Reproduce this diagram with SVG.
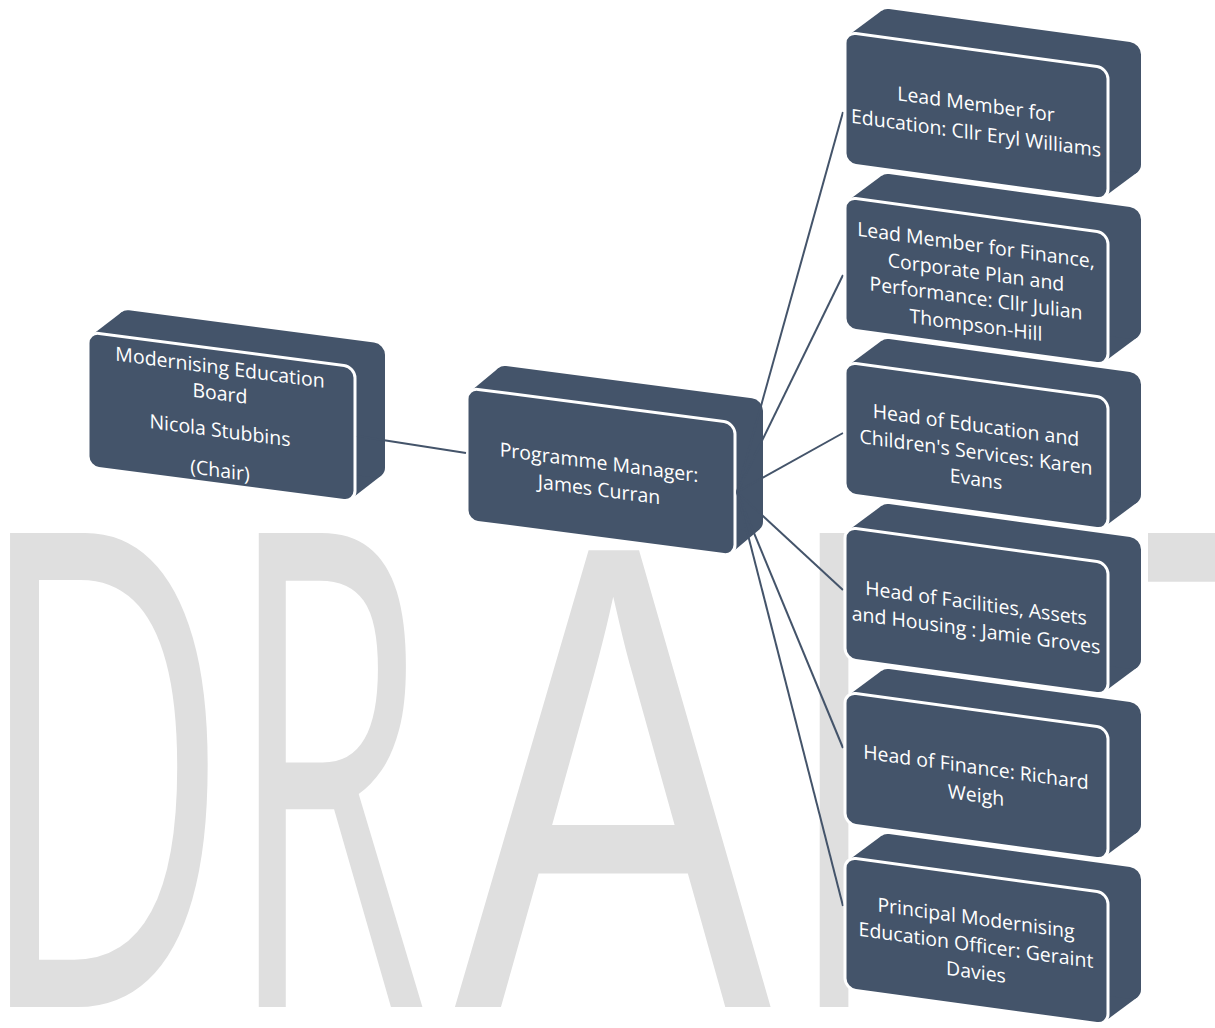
<svg xmlns="http://www.w3.org/2000/svg" width="1215" height="1028" viewBox="0 0 1215 1028">
<style>
.wm{fill:#DFDFDF;font-family:"Open Sans","Noto Sans",sans-serif;font-size:664px}
.wma{fill:#DFDFDF;font-family:"Liberation Sans",Arial,sans-serif;font-size:664px}
.body{fill:#44546A}
.face{fill:#44546A;stroke:#FFFFFF;stroke-width:3}
.lbl{fill:#FFFFFF;font-family:"Open Sans","Noto Sans",sans-serif;font-size:19.5px;text-anchor:middle}
.conn line{stroke:#44546A;stroke-width:2}
</style>
<rect width="1215" height="1028" fill="#FFFFFF"/>
<g id="watermark">
<text class="wm" transform="translate(-24,1007) scale(0.525,1)">D</text>
<text class="wm" transform="translate(227,1007) scale(0.49,1)">R</text>
<text class="wma" transform="translate(454,1007) scale(0.717,1)">A</text>
<text class="wm" transform="translate(786,1007) scale(0.52,1)">F</text>
<text class="wm" transform="translate(1145,1007) scale(0.52,1)">T</text>
</g>
<g id="n-board" transform="translate(88,332) skewY(7.45)">
<polygon class="body" points="3.6,2.8 33.6,-24.2 293.4,105.2 263.4,132.2"/>
<rect class="body" x="30" y="-27" width="267" height="135" rx="11"/>
<rect class="face" x="0" y="0" width="267" height="135" rx="11"/>
<text class="lbl" x="132" y="25">Modernising Education</text>
<text class="lbl" x="132" y="51">Board</text>
<text class="lbl" x="132" y="88">Nicola Stubbins</text>
<text class="lbl" x="132" y="128">(Chair)</text>
</g>
<g id="n-pm" transform="translate(467,388) skewY(7.45)">
<polygon class="body" points="3.3,3.1 31.3,-23.9 292.7,103.1 264.7,130.1"/>
<rect class="body" x="28" y="-27" width="268" height="133" rx="11"/>
<rect class="face" x="0" y="0" width="268" height="133" rx="11"/>
<text class="lbl" x="132" y="64">Programme Manager:</text>
<text class="lbl" x="132" y="91">James Curran</text>
</g>
<g id="connectors" class="conn">
<line x1="357" y1="436" x2="466" y2="453"/>
<line x1="737" y1="492" x2="843" y2="112"/>
<line x1="737" y1="492" x2="843" y2="275"/>
<line x1="737" y1="492" x2="843" y2="433"/>
<line x1="737" y1="492" x2="843" y2="590"/>
<line x1="737" y1="492" x2="843" y2="748"/>
<line x1="737" y1="492" x2="843" y2="906"/>
</g>
<g id="n-r1" transform="translate(845,32) skewY(7.8)">
<polygon class="body" points="3.6,2.8 36.6,-26.2 292.4,100.2 259.4,129.2"/>
<rect class="body" x="33" y="-29" width="263" height="132" rx="11"/>
<rect class="face" x="0" y="0" width="263" height="132" rx="11"/>
<text class="lbl" x="131" y="61">Lead Member for</text>
<text class="lbl" x="131" y="90">Education: Cllr Eryl Williams</text>
</g>
<g id="n-r2" transform="translate(845,197) skewY(7.8)">
<polygon class="body" points="3.6,2.8 36.6,-26.2 292.4,100.2 259.4,129.2"/>
<rect class="body" x="33" y="-29" width="263" height="132" rx="11"/>
<rect class="face" x="0" y="0" width="263" height="132" rx="11"/>
<text class="lbl" x="131" y="37">Lead Member for Finance,</text>
<text class="lbl" x="131" y="64">Corporate Plan and</text>
<text class="lbl" x="131" y="90">Performance: Cllr Julian</text>
<text class="lbl" x="131" y="117">Thompson-Hill</text>
</g>
<g id="n-r3" transform="translate(845,362) skewY(7.8)">
<polygon class="body" points="3.6,2.8 36.6,-26.2 292.4,100.2 259.4,129.2"/>
<rect class="body" x="33" y="-29" width="263" height="132" rx="11"/>
<rect class="face" x="0" y="0" width="263" height="132" rx="11"/>
<text class="lbl" x="131" y="52">Head of Education and</text>
<text class="lbl" x="131" y="79">Children's Services: Karen</text>
<text class="lbl" x="131" y="106">Evans</text>
</g>
<g id="n-r4" transform="translate(845,527) skewY(7.8)">
<polygon class="body" points="3.6,2.8 36.6,-26.2 292.4,100.2 259.4,129.2"/>
<rect class="body" x="33" y="-29" width="263" height="132" rx="11"/>
<rect class="face" x="0" y="0" width="263" height="132" rx="11"/>
<text class="lbl" x="131" y="65">Head of Facilities, Assets</text>
<text class="lbl" x="131" y="92">and Housing : Jamie Groves</text>
</g>
<g id="n-r5" transform="translate(845,692) skewY(7.8)">
<polygon class="body" points="3.6,2.8 36.6,-26.2 292.4,100.2 259.4,129.2"/>
<rect class="body" x="33" y="-29" width="263" height="132" rx="11"/>
<rect class="face" x="0" y="0" width="263" height="132" rx="11"/>
<text class="lbl" x="131" y="64">Head of Finance: Richard</text>
<text class="lbl" x="131" y="92">Weigh</text>
</g>
<g id="n-r6" transform="translate(845,857) skewY(7.8)">
<polygon class="body" points="3.6,2.8 36.6,-26.2 292.4,100.2 259.4,129.2"/>
<rect class="body" x="33" y="-29" width="263" height="132" rx="11"/>
<rect class="face" x="0" y="0" width="263" height="132" rx="11"/>
<text class="lbl" x="131" y="50">Principal Modernising</text>
<text class="lbl" x="131" y="77">Education Officer: Geraint</text>
<text class="lbl" x="131" y="104">Davies</text>
</g>
</svg>
